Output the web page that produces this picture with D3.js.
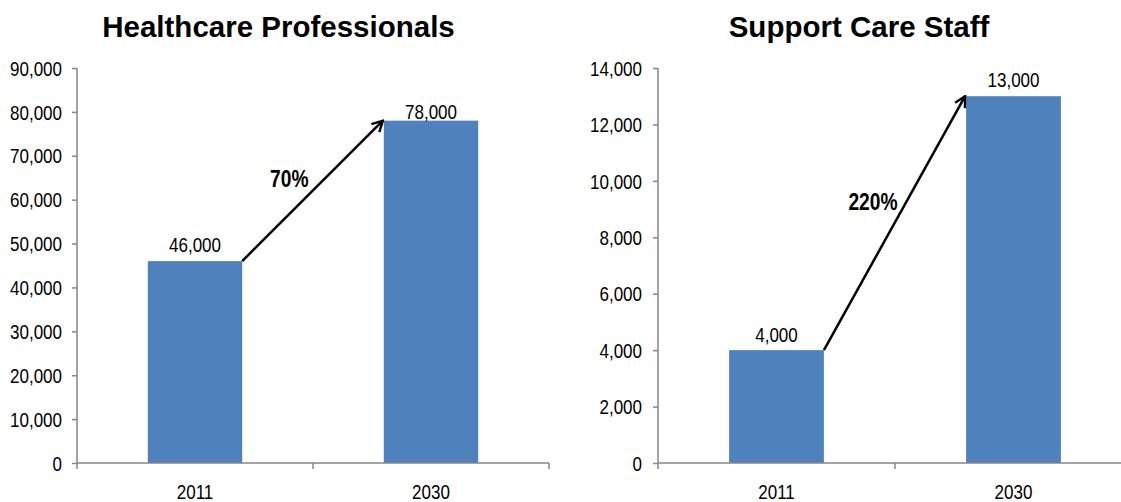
<!DOCTYPE html>
<html>
<head>
<meta charset="utf-8">
<script src="https://cdn.jsdelivr.net/npm/d3@7"></script>
<style>
  body { margin: 0; background: #fff; }
  svg text { font-family: "Liberation Sans", Arial, sans-serif; }
</style>
</head>
<body>
<svg id="fig" width="1121" height="502"></svg>
<script>
const years = ['2011', '2030'];
const hcValues = [46000, 78000];
const hcTicks = [0, 10000, 20000, 30000, 40000, 50000, 60000, 70000, 80000, 90000];
const hcGrowth = '70%';
const scValues = [4000, 13000];
const scTicks = [0, 2000, 4000, 6000, 8000, 10000, 12000, 14000];
const scGrowth = '220%';

const svg = d3.select('#fig');
const fmt = d3.format(',');
const barColor = '#4F81BD';
const axisColor = '#868686';
const narrow = 0.83; // no Arial Narrow here, squeeze Liberation Sans instead

// place a squeezed text at (x, y)
const narrowText = (parent, x, y, s) => parent.append('text')
    .attr('transform', `translate(${x},${y}) scale(${s},1)`);

svg.append('defs').append('marker')
    .attr('id', 'arrow')
    .attr('viewBox', '0 0 10 10')
    .attr('refX', 9).attr('refY', 5)
    .attr('markerWidth', 14).attr('markerHeight', 14)
    .attr('markerUnits', 'userSpaceOnUse')
    .attr('orient', 'auto')
    .append('path')
    .attr('d', 'M1.5,1 L9,5 L1.5,9')
    .attr('fill', 'none')
    .attr('stroke', '#000')
    .attr('stroke-width', 1.7);

const drawChart = (opt) => {
    const g = svg.append('g');
    const x = d3.scaleBand().domain(opt.cats)
        .range([opt.left, opt.left + opt.step * 2])
        .paddingInner(0.6).paddingOuter(0.3);
    const y = d3.scaleLinear().domain([0, d3.max(opt.ticks)]).range([463, 68]);

    g.append('text')
        .attr('x', opt.titleX).attr('y', 37)
        .attr('text-anchor', 'middle')
        .attr('font-size', 29.5)
        .attr('font-weight', 'bold')
        .text(opt.title);

    // y axis
    const yAxis = g.append('g')
        .attr('transform', `translate(${opt.left},0)`)
        .call(d3.axisLeft(y).tickValues(opt.ticks).tickFormat(fmt).tickSize(5).tickPadding(10));
    yAxis.select('.domain').attr('stroke', axisColor).attr('stroke-width', 1.5)
        .attr('d', `M0,${y(0)}V${y.range()[1]}`);
    yAxis.selectAll('.tick line').attr('stroke', axisColor).attr('stroke-width', 1.5);
    yAxis.selectAll('.tick text')
        .attr('font-size', 20.5).attr('fill', '#000').attr('dy', '0.35em')
        .attr('x', -opt.labelPad / narrow)
        .attr('transform', `scale(${narrow},1)`);

    // bars
    g.selectAll('rect').data(opt.values).join('rect')
        .attr('x', (d, i) => x(opt.cats[i]))
        .attr('y', d => y(d))
        .attr('width', x.bandwidth())
        .attr('height', d => y(0) - y(d))
        .attr('fill', barColor);

    // x axis
    g.append('line')
        .attr('x1', opt.left).attr('x2', opt.left + opt.step * 2)
        .attr('y1', y(0)).attr('y2', y(0))
        .attr('stroke', axisColor).attr('stroke-width', 1.5);
    g.selectAll('.xtick').data([0, 1, 2]).join('line')
        .attr('class', 'xtick')
        .attr('x1', d => opt.left + d * x.step()).attr('x2', d => opt.left + d * x.step())
        .attr('y1', y(0)).attr('y2', y(0) + 6)
        .attr('stroke', axisColor).attr('stroke-width', 1.5);
    opt.cats.forEach(c => {
        narrowText(g, x(c) + x.bandwidth() / 2, 499, narrow)
            .attr('text-anchor', 'middle')
            .attr('font-size', 20.5)
            .text(c);
    });

    // value labels
    opt.values.forEach((v, i) => {
        narrowText(g, x(opt.cats[i]) + x.bandwidth() / 2, y(v) - opt.labelGap[i], narrow)
            .attr('text-anchor', 'middle')
            .attr('font-size', 20.5)
            .text(fmt(v));
    });

    // growth arrow
    const x1 = x(opt.cats[0]) + x.bandwidth(), y1 = y(opt.values[0]);
    const x2 = x(opt.cats[1]) - 1, y2 = y(opt.values[1]);
    g.append('line')
        .attr('x1', x1).attr('y1', y1).attr('x2', x2).attr('y2', y2)
        .attr('stroke', '#000').attr('stroke-width', 2.5)
        .attr('marker-end', 'url(#arrow)');
    narrowText(g, (x1 + x2) / 2 + opt.growthOff[0], (y1 + y2) / 2 + opt.growthOff[1], 0.8)
        .attr('text-anchor', 'end')
        .attr('font-size', 24)
        .attr('font-weight', 'bold')
        .text(opt.growth);
};

drawChart({ title: 'Healthcare Professionals', titleX: 278.5, left: 77, step: 236, labelPad: 15,
    cats: years, values: hcValues, ticks: hcTicks, growth: hcGrowth,
    labelGap: [9, 2], growthOff: [-4, -4] });
drawChart({ title: 'Support Care Staff', titleX: 859, left: 658, step: 237, labelPad: 16,
    cats: years, values: scValues, ticks: scTicks, growth: scGrowth,
    labelGap: [8, 9], growthOff: [3, -13] });
</script>
</body>
</html>
